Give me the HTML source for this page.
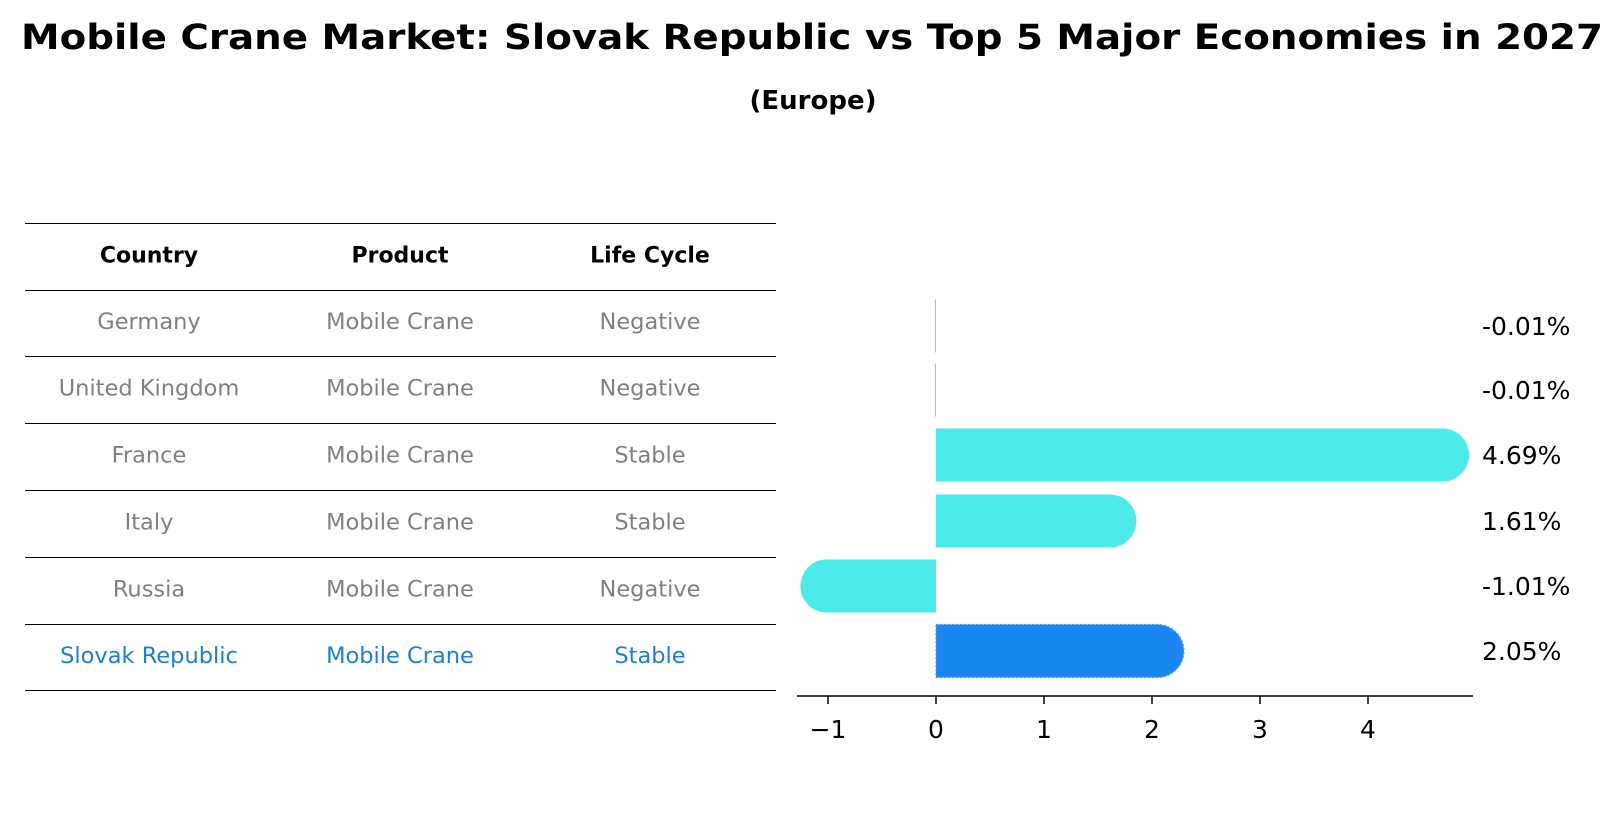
<!DOCTYPE html>
<html><head><meta charset="utf-8"><style>
html,body{margin:0;padding:0;background:#fff;}
svg{display:block;font-family:"DejaVu Sans","Liberation Sans",sans-serif;}
</style></head><body>
<svg id="chart" width="1624" height="823" viewBox="0 0 1624 823">
<text x="812" y="49" text-anchor="middle" font-size="35" font-weight="bold" textLength="1582" lengthAdjust="spacingAndGlyphs">Mobile Crane Market: Slovak Republic vs Top 5 Major Economies in 2027</text>
<text x="813" y="109" text-anchor="middle" font-size="26" font-weight="bold">(Europe)</text>
<g id="table"></g>
<g id="bars"></g>
</svg>
<script>
const countries = ["Germany","United Kingdom","France","Italy","Russia","Slovak Republic"];
const products = ["Mobile Crane","Mobile Crane","Mobile Crane","Mobile Crane","Mobile Crane","Mobile Crane"];
const lifeCycles = ["Negative","Negative","Stable","Stable","Negative","Stable"];
const values = [-0.01,-0.01,4.69,1.61,-1.01,2.05];
const valueLabels = ["-0.01%","-0.01%","4.69%","1.61%","-1.01%","2.05%"];
const xTicks = [-1,0,1,2,3,4];
const tickLabels = ["\u22121","0","1","2","3","4"];

const NS="http://www.w3.org/2000/svg";
function mk(tag, attrs, parent){const e=document.createElementNS(NS,tag);for(const k in attrs)e.setAttribute(k,attrs[k]);parent.appendChild(e);return e;}

// table
const tbl=document.getElementById('table');
const lineYs=[223,290,356,423,490,557,624,690];
const colX=[149,400,650];
for(let i=0;i<lineYs.length;i++){
  const l=mk('line',{x1:25,x2:776,y1:lineYs[i]+0.5,y2:lineYs[i]+0.5,stroke:'#000','stroke-width':1},tbl);
  
  
}
const headers=["Country","Product","Life Cycle"];
headers.forEach((h,j)=>{
  const t=mk('text',{x:colX[j],y:(lineYs[0]+lineYs[1])/2+6,'text-anchor':'middle','font-size':22,'font-weight':'bold'},tbl);
  t.textContent=h;
  
  
});
for(let i=0;i<countries.length;i++){
  const y=(lineYs[i+1]+lineYs[i+2])/2+6;
  const col=i===countries.length-1?'#1a7fdc':'#808080';
  [countries[i],products[i],lifeCycles[i]].forEach((v,j)=>{
    const t=mk('text',{x:colX[j],y:y,'text-anchor':'middle','font-size':22.5,fill:col},tbl);
    t.textContent=v;
    
    
  });
}

// bars
const g=document.getElementById('bars');
const x0=936, unit=108;
function xs(v){return x0+v*unit;}
const rowY=[326,390,455,521,586,651];
const bh=53, r=26.5;
for(let i=0;i<values.length;i++){
  const v=values[i], cy=rowY[i];
  const xe=xs(v), isLast=i===values.length-1;
  const fill=isLast?'#1a86f2':'#4deaea';
  let d;
  if(Math.abs(v)<0.05){
    d=`M${x0} ${cy-bh/2} L${xe} ${cy-bh/2} L${xe} ${cy+bh/2} L${x0} ${cy+bh/2} Z`;
  } else if(v>0){
    d=`M${x0} ${cy-bh/2} L${xe} ${cy-bh/2} A${r} ${r} 0 0 1 ${xe} ${cy+bh/2} L${x0} ${cy+bh/2} Z`;
  } else {
    d=`M${x0} ${cy-bh/2} L${xe} ${cy-bh/2} A${r} ${r} 0 0 0 ${xe} ${cy+bh/2} L${x0} ${cy+bh/2} Z`;
  }
  const p=mk('path',{d:d,fill:fill},g);
  if(isLast){p.setAttribute('stroke','#5a9ee0');p.setAttribute('stroke-width','1.2');p.setAttribute('stroke-dasharray','2 2');}
  
  
  const t=mk('text',{x:1482,y:cy+9,'font-size':25},g);
  t.textContent=valueLabels[i];
  
  
}
const ax=mk('line',{x1:797,x2:1473,y1:696,y2:696,stroke:'#000','stroke-width':1.5},g);


xTicks.forEach((v,k)=>{
  const tk=mk('line',{x1:xs(v),x2:xs(v),y1:696,y2:704,stroke:'#000','stroke-width':1.5},g);
  
  
  const t=mk('text',{x:xs(v),y:738,'text-anchor':'middle','font-size':25},g);
  t.textContent=tickLabels[k];
  
  
});
</script>
</body></html>
